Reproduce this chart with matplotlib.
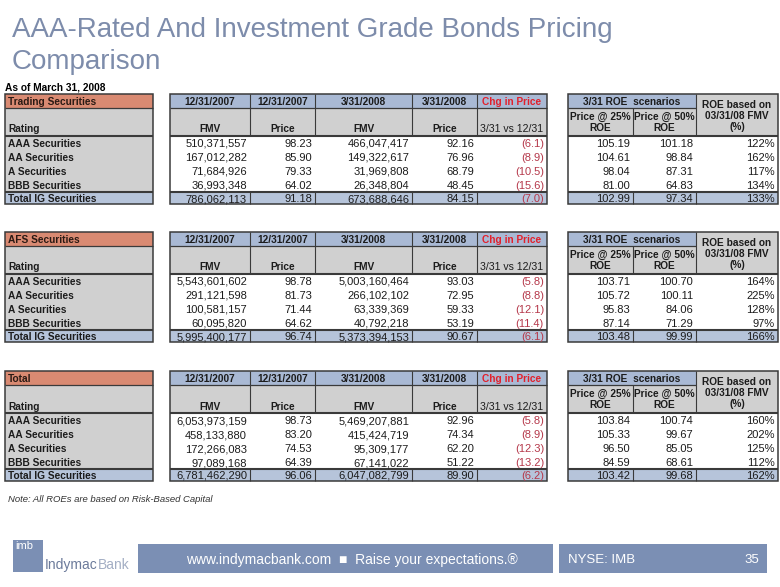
import matplotlib
matplotlib.use("Agg")
import matplotlib.pyplot as plt
from matplotlib.patches import Rectangle

# ------------------------------------------------------------------
# Datos de la lamina
# ------------------------------------------------------------------
ratings = ["AAA Securities", "AA Securities", "A Securities",
           "BBB Securities", "Total IG Securities"]
section_names = ["Trading Securities", "AFS Securities", "Total"]

trading_fmv_2007 = [510371557, 167012282, 71684926, 36993348, 786062113]
trading_price_2007 = [98.23, 85.90, 79.33, 64.02, 91.18]
trading_fmv_2008 = [466047417, 149322617, 31969808, 26348804, 673688646]
trading_price_2008 = [92.16, 76.96, 68.79, 48.45, 84.15]
trading_chg = [-6.1, -8.9, -10.5, -15.6, -7.0]
trading_p25 = [105.19, 104.61, 98.04, 81.00, 102.99]
trading_p50 = [101.18, 98.84, 87.31, 64.83, 97.34]
trading_roe = [122, 162, 117, 134, 133]

afs_fmv_2007 = [5543601602, 291121598, 100581157, 60095820, 5995400177]
afs_price_2007 = [98.78, 81.73, 71.44, 64.62, 96.74]
afs_fmv_2008 = [5003160464, 266102102, 63339369, 40792218, 5373394153]
afs_price_2008 = [93.03, 72.95, 59.33, 53.19, 90.67]
afs_chg = [-5.8, -8.8, -12.1, -11.4, -6.1]
afs_p25 = [103.71, 105.72, 95.83, 87.14, 103.48]
afs_p50 = [100.70, 100.11, 84.06, 71.29, 99.99]
afs_roe = [164, 225, 128, 97, 166]

total_fmv_2007 = [6053973159, 458133880, 172266083, 97089168, 6781462290]
total_price_2007 = [98.73, 83.20, 74.53, 64.39, 96.06]
total_fmv_2008 = [5469207881, 415424719, 95309177, 67141022, 6047082799]
total_price_2008 = [92.96, 74.34, 62.20, 51.22, 89.90]
total_chg = [-5.8, -8.9, -12.3, -13.2, -6.2]
total_p25 = [103.84, 105.33, 96.50, 84.59, 103.42]
total_p50 = [100.74, 99.67, 85.05, 68.61, 99.68]
total_roe = [160, 202, 125, 112, 162]

date_headers = ["12/31/2007", "12/31/2007", "3/31/2008", "3/31/2008"]
sub_headers = ["FMV", "Price", "FMV", "Price"]

# ------------------------------------------------------------------
# Estilo
# ------------------------------------------------------------------
SALMON = "#d98a72"
BLUE_HDR = "#a9b9d4"
GREY = "#d0d0d0"
TOTAL_BG = "#b6c4da"
EDGE = "#3a3a3a"
RED_HDR = "#e3202b"
RED_VAL = "#b5384a"
TXT = "#1c1c1c"
TITLE_C = "#7d8cab"
BAR_C = "#7b8fb4"

FS = 8.0      # numeros
FSB = 7.3     # etiquetas en negrita
H_HEAD, H_SUB, H_ROW, H_TOT = 13.5, 28, 14, 12
TOPS = [94, 232, 371]
LEFT_X = (5, 153)
MID_X = [170, 250, 315, 412, 477, 547]
RIGHT_X = [568, 633, 696, 778]
VA = "center_baseline"

plt.rcParams['font.family'] = ['Liberation Sans', 'DejaVu Sans']

fig = plt.figure(figsize=(7.8, 5.87), dpi=100)
ax = fig.add_axes([0, 0, 1, 1])
ax.set_xlim(0, 780)
ax.set_ylim(587, 0)
ax.axis("off")


def caja(x0, x1, y0, y1, color):
    ax.add_patch(Rectangle((x0, y0), x1 - x0, y1 - y0, facecolor=color,
                           edgecolor="none", zorder=1))


def hlinea(x0, x1, y, lw=0.9):
    ax.plot([x0, x1], [y, y], color=EDGE, lw=lw, zorder=3,
            solid_capstyle="butt")


def vlinea(x, y0, y1, lw=0.8):
    ax.plot([x, x], [y0, y1], color=EDGE, lw=lw, zorder=3,
            solid_capstyle="butt")


def marco(x0, x1, y0, y1, lw=1.1):
    ax.add_patch(Rectangle((x0, y0), x1 - x0, y1 - y0, facecolor="none",
                           edgecolor=EDGE, lw=lw, zorder=4))


def fmt_chg(v):
    return f"({abs(v):.1f})" if v < 0 else f"{v:.1f}"


def dibujar_seccion(top, nombre, columnas):
    y_sub = top + H_HEAD
    y_dat = y_sub + H_SUB
    y_tot = y_dat + 4 * H_ROW
    y_fin = y_tot + H_TOT
    centros = [y_dat + H_ROW * (i + 0.5) + 0.5 for i in range(4)] + \
              [y_tot + H_TOT / 2 + 0.5]

    # ---- tabla de rating ----
    x0, x1 = LEFT_X
    caja(x0, x1, top, y_sub, SALMON)
    caja(x0, x1, y_sub, y_tot, GREY)
    caja(x0, x1, y_tot, y_fin, TOTAL_BG)
    hlinea(x0, x1, y_sub)
    hlinea(x0, x1, y_dat, 1.5)
    hlinea(x0, x1, y_tot, 1.5)
    marco(x0, x1, top, y_fin)
    ax.text(x0 + 3, top + H_HEAD / 2 + 0.5, nombre, fontsize=FSB,
            weight="bold", color="#2a1a14", va=VA, ha="left", zorder=5)
    ax.text(x0 + 3, y_dat - 7, "Rating", fontsize=FSB, weight="bold",
            color=TXT, va=VA, ha="left", zorder=5)
    for r, yc in zip(ratings, centros):
        ax.text(x0 + 3, yc, r, fontsize=FSB, weight="bold", color=TXT,
                va=VA, ha="left", zorder=5)

    # ---- tabla central ----
    xs = MID_X
    caja(xs[0], xs[-1], top, y_sub, BLUE_HDR)
    caja(xs[0], xs[-1], y_sub, y_dat, GREY)
    caja(xs[0], xs[-1], y_dat, y_tot, "white")
    caja(xs[0], xs[-1], y_tot, y_fin, TOTAL_BG)
    hlinea(xs[0], xs[-1], y_sub)
    hlinea(xs[0], xs[-1], y_dat, 1.5)
    hlinea(xs[0], xs[-1], y_tot, 1.5)
    for x in xs[1:-1]:
        vlinea(x, top, y_dat)
        vlinea(x, y_tot, y_fin)
    marco(xs[0], xs[-1], top, y_fin)
    for j in range(4):
        xc = (xs[j] + xs[j + 1]) / 2
        ax.text(xc, top + H_HEAD / 2 + 0.5, date_headers[j], fontsize=FSB,
                weight="bold", color=TXT, ha="center", va=VA, zorder=5)
        ax.text(xc, y_dat - 7, sub_headers[j], fontsize=FSB, weight="bold",
                color=TXT, ha="center", va=VA, zorder=5)
    xc = (xs[4] + xs[5]) / 2
    ax.text(xc, top + H_HEAD / 2 + 0.5, "Chg in Price", fontsize=FSB,
            weight="bold", color=RED_HDR, ha="center", va=VA, zorder=5)
    ax.text(xc, y_dat - 7, "3/31 vs 12/31", fontsize=7.6, color=TXT,
            ha="center", va=VA, zorder=5)

    fmv07, pr07, fmv08, pr08, chg, p25, p50, roe = columnas
    for i, yc in enumerate(centros):
        vals = [f"{fmv07[i]:,}", f"{pr07[i]:.2f}", f"{fmv08[i]:,}",
                f"{pr08[i]:.2f}"]
        for j, s in enumerate(vals):
            ax.text(xs[j + 1] - 3, yc, s, fontsize=FS, color=TXT,
                    ha="right", va=VA, zorder=5)
        ax.text(xs[5] - 3, yc, fmt_chg(chg[i]), fontsize=FS, color=RED_VAL,
                ha="right", va=VA, zorder=5)

    # ---- tabla derecha (ROE) ----
    xr = RIGHT_X
    caja(xr[0], xr[2], top, y_sub, BLUE_HDR)
    caja(xr[0], xr[2], y_sub, y_dat, GREY)
    caja(xr[2], xr[3], top, y_dat, GREY)
    caja(xr[0], xr[3], y_dat, y_tot, "white")
    caja(xr[0], xr[3], y_tot, y_fin, TOTAL_BG)
    hlinea(xr[0], xr[2], y_sub)
    hlinea(xr[0], xr[3], y_dat, 1.5)
    hlinea(xr[0], xr[3], y_tot, 1.5)
    vlinea(xr[1], y_sub, y_dat)
    vlinea(xr[2], top, y_dat)
    vlinea(xr[1], y_tot, y_fin)
    vlinea(xr[2], y_tot, y_fin)
    marco(xr[0], xr[3], top, y_fin)
    ax.text((xr[0] + xr[2]) / 2, top + H_HEAD / 2 + 0.5, "3/31 ROE  scenarios",
            fontsize=FSB, weight="bold", color=TXT, ha="center", va=VA,
            zorder=5)
    for j, etiqueta in enumerate(["Price @ 25%\nROE", "Price @ 50%\nROE"]):
        ax.text((xr[j] + xr[j + 1]) / 2, y_sub + H_SUB / 2 + 1, etiqueta,
                fontsize=FSB, weight="bold", color=TXT, ha="center",
                va="center", linespacing=1.05, zorder=5)
    ax.text((xr[2] + xr[3]) / 2, (top + y_dat) / 2 + 1,
            "ROE based on\n03/31/08 FMV\n(%)", fontsize=FSB, weight="bold",
            color=TXT, ha="center", va="center", linespacing=1.15, zorder=5)
    for i, yc in enumerate(centros):
        ax.text(xr[1] - 3, yc, f"{p25[i]:.2f}", fontsize=FS, color=TXT,
                ha="right", va=VA, zorder=5)
        ax.text(xr[2] - 3, yc, f"{p50[i]:.2f}", fontsize=FS, color=TXT,
                ha="right", va=VA, zorder=5)
        ax.text(xr[3] - 3, yc, f"{roe[i]}%", fontsize=FS, color=TXT,
                ha="right", va=VA, zorder=5)


secciones = [
    (trading_fmv_2007, trading_price_2007, trading_fmv_2008,
     trading_price_2008, trading_chg, trading_p25, trading_p50, trading_roe),
    (afs_fmv_2007, afs_price_2007, afs_fmv_2008, afs_price_2008, afs_chg,
     afs_p25, afs_p50, afs_roe),
    (total_fmv_2007, total_price_2007, total_fmv_2008, total_price_2008,
     total_chg, total_p25, total_p50, total_roe),
]
for top, nombre, cols in zip(TOPS, section_names, secciones):
    dibujar_seccion(top, nombre, cols)

# ---- titulo y notas ----
ax.text(12, 30, "AAA-Rated And Investment Grade Bonds Pricing", fontsize=20,
        color=TITLE_C, ha="left", va="center")
ax.text(12, 62, "Comparison", fontsize=20, color=TITLE_C, ha="left",
        va="center")
ax.text(5, 88, "As of March 31, 2008", fontsize=7.3, weight="bold",
        color="black", ha="left", va="center")
ax.text(8, 499, "Note: All ROEs are based on Risk-Based Capital", fontsize=6.8,
        style="italic", color="#333333", ha="left", va="center")

# ---- pie de pagina ----
caja(13, 43, 540, 572, BAR_C)
ax.text(15, 546, "imb", fontsize=8, color="white", ha="left", va="center",
        zorder=5)
t1 = ax.text(45, 569, "Indymac", fontsize=10, color="#6c7b9b", ha="left",
             va="baseline", zorder=5)
fig.canvas.draw()
bb = t1.get_window_extent().transformed(ax.transData.inverted())
ax.text(bb.x1, 569, "Bank", fontsize=10, color="#a3aec4", ha="left",
        va="baseline", zorder=5)

caja(138, 553, 544, 573, BAR_C)
ax.text(352, 560, "www.indymacbank.com  \u25a0  Raise your expectations.\u00ae",
        fontsize=10, color="white", ha="center", va="center", zorder=5)
caja(559, 767, 544, 573, BAR_C)
ax.text(568, 560, "NYSE: IMB", fontsize=9.5, color="white", ha="left",
        va="center", zorder=5)
ax.text(759, 560, "35", fontsize=9.5, color="white", ha="right", va="center",
        zorder=5)

fig.savefig("out.png", dpi=100)
